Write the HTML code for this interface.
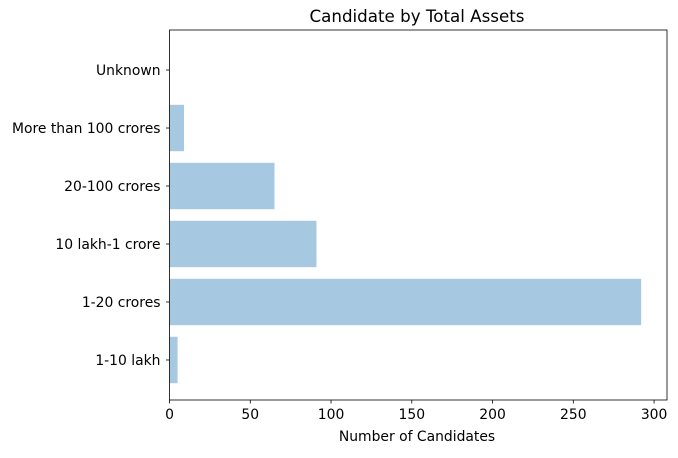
<!DOCTYPE html>
<html><head><meta charset="utf-8"><style>
body{margin:0;background:#fff;}
svg text{font-family:"DejaVu Sans","Liberation Sans",sans-serif;fill:#000;}
</style></head><body>
<svg id="chart" width="678" height="453" xmlns="http://www.w3.org/2000/svg">
<text x="417" y="22" font-size="16.7" text-anchor="middle">Candidate by Total Assets</text>
<g id="bars"></g>
<g id="axes"></g>
<text x="417" y="441" font-size="13.9" text-anchor="middle">Number of Candidates</text>
</svg>
<script>
const categories = ["1-10 lakh","1-20 crores","10 lakh-1 crore","20-100 crores","More than 100 crores","Unknown"];
const values = [5, 292, 91, 65, 9, 0];
const xTicks = [0,50,100,150,200,250,300];
const L=169.5,R=667,T=30,B=400;
const xMin=0,xMax=308;
const yMin=-0.69,yMax=5.69;
const sx=v=>L+(v-xMin)/(xMax-xMin)*(R-L);
const sy=v=>B-(v-yMin)/(yMax-yMin)*(B-T);
const ns="http://www.w3.org/2000/svg";
const bars=document.getElementById('bars'),axes=document.getElementById('axes');
function mk(tag,attrs,parent){const e=document.createElementNS(ns,tag);for(const k in attrs)e.setAttribute(k,attrs[k]);parent.appendChild(e);return e;}
const bandH=sy(0)-sy(0.8);
categories.forEach((c,i)=>{
  const r=mk('rect',{x:sx(0),y:sy(i)-bandH/2,width:Math.max(0,sx(values[i])-sx(0)),height:bandH,fill:'#a6c8e1'},bars);
  
  
  const t=mk('line',{x1:L-3.5,x2:L,y1:sy(i),y2:sy(i),stroke:'#000','stroke-width':0.8},axes);
  
  
  const lb=mk('text',{x:L-9,y:sy(i)+5,'font-size':13.9,'text-anchor':'end'},axes);
  lb.textContent=c;
  
  
});
xTicks.forEach(v=>{
  const t=mk('line',{x1:sx(v),x2:sx(v),y1:B,y2:B+3.5,stroke:'#000','stroke-width':0.8},axes);
  
  
  const lb=mk('text',{x:sx(v),y:B+19,'font-size':13.9,'text-anchor':'middle'},axes);
  lb.textContent=v;
  
  
});
const fr=mk('rect',{x:L,y:T,width:R-L,height:B-T,fill:'none',stroke:'#000','stroke-width':0.8},axes);


</script>
</body></html>
